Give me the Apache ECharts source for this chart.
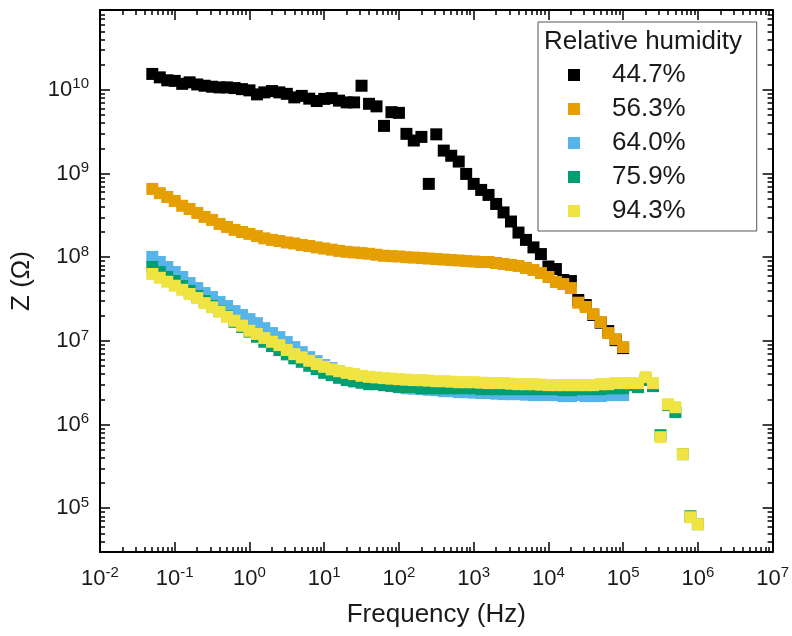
<!DOCTYPE html>
<html><head><meta charset="utf-8">
<script src="https://cdn.jsdelivr.net/npm/echarts@6/dist/echarts.min.js"></script>
<style>html,body{margin:0;padding:0;background:#fff}#c{width:792px;height:636px}</style>
</head><body><div id="c"></div>
<script>
// Frequencies (Hz), 10 points per decade
const freq = [0.0501,0.0631,0.0794,
 0.1,0.126,0.158,0.2,0.251,0.316,0.398,0.501,0.631,0.794,
 1,1.26,1.58,2,2.51,3.16,3.98,5.01,6.31,7.94,
 10,12.6,15.8,20,25.1,31.6,39.8,50.1,63.1,79.4,
 100,126,158,200,251,316,398,501,631,794,
 1000,1260,1580,2000,2510,3160,3980,5010,6310,7940,
 1e4,12600,15800,20000,25100,31600,39800,50100,63100,79400,
 1e5,126000,158000,200000,251000,316000,398000,501000,631000,794000,
 1e6];

// Impedance |Z| (ohm) per relative humidity
const rh447 = [1.55e10,1.41e10,1.30e10,1.28e10,1.18e10,1.23e10,1.16e10,1.12e10,1.09e10,1.07e10,
 1.07e10,1.05e10,1.02e10,9.86e9,8.83e9,9.33e9,9.67e9,9.33e9,8.96e9,8.13e9,
 8.47e9,7.85e9,7.35e9,7.80e9,7.96e9,7.43e9,7.08e9,7.08e9,1.12e10,6.81e9,
 6.35e9,3.71e9,5.41e9,5.31e9,2.98e9,2.48e9,2.74e9,7.52e8,2.94e9,1.88e9,
 1.63e9,1.39e9,9.89e8,7.52e8,6.37e8,5.55e8,4.33e8,3.43e8,2.67e8,1.97e8,
 1.61e8,1.31e8,1.09e8,7.74e7,7.22e7,5.34e7,5.19e7,3.08e7,2.68e7,2.04e7,
 1.65e7,1.31e7,1.02e7,8.20e6];
const rh563 = [6.55e8,5.83e8,5.25e8,4.70e8,4.12e8,3.77e8,3.38e8,3.03e8,2.79e8,2.50e8,
 2.30e8,2.12e8,2.00e8,1.90e8,1.79e8,1.68e8,1.61e8,1.56e8,1.50e8,1.46e8,
 1.40e8,1.36e8,1.31e8,1.27e8,1.23e8,1.19e8,1.16e8,1.14e8,1.12e8,1.10e8,
 1.07e8,1.04e8,1.03e8,1.02e8,1.00e8,9.91e7,9.77e7,9.64e7,9.51e7,9.38e7,
 9.26e7,9.14e7,9.01e7,8.89e7,8.77e7,8.77e7,8.53e7,8.30e7,8.08e7,7.86e7,
 7.44e7,7.04e7,6.47e7,5.80e7,5.05e7,4.78e7,4.28e7,2.86e7,2.54e7,2.09e7,
 1.68e7,1.24e7,1.05e7,8.43e6];
const rh640 = [1.01e8,8.77e7,7.64e7,6.65e7,5.80e7,4.91e7,4.28e7,3.73e7,3.34e7,2.91e7,
 2.61e7,2.27e7,2.04e7,1.82e7,1.63e7,1.42e7,1.24e7,1.11e7,9.68e6,8.43e6,
 7.34e6,6.40e6,5.73e6,5.14e6,4.73e6,4.35e6,4.01e6,3.69e6,3.49e6,3.30e6,
 3.13e6,2.96e6,2.88e6,2.80e6,2.72e6,2.69e6,2.65e6,2.61e6,2.58e6,2.51e6,
 2.51e6,2.44e6,2.44e6,2.41e6,2.38e6,2.38e6,2.34e6,2.31e6,2.31e6,2.31e6,
 2.28e6,2.25e6,2.25e6,2.25e6,2.25e6,2.19e6,2.19e6,2.25e6,2.19e6,2.19e6,
 2.19e6,2.25e6,2.25e6,2.25e6];
const rh759 = [7.64e7,6.65e7,5.80e7,5.19e7,4.53e7,3.95e7,3.44e7,2.99e7,2.61e7,2.27e7,
 1.98e7,1.69e7,1.47e7,1.29e7,1.12e7,9.76e6,8.67e6,7.77e6,6.90e6,6.18e6,
 5.62e6,5.04e6,4.60e6,4.15e6,3.90e6,3.62e6,3.40e6,3.28e6,3.16e6,3.04e6,
 3.04e6,2.96e6,2.90e6,2.82e6,2.82e6,2.82e6,2.72e6,2.72e6,2.72e6,2.72e6,
 2.72e6,2.72e6,2.72e6,2.72e6,2.65e6,2.65e6,2.65e6,2.65e6,2.65e6,2.65e6,
 2.65e6,2.65e6,2.65e6,2.65e6,2.65e6,2.58e6,2.58e6,2.65e6,2.65e6,2.65e6,
 2.65e6,2.72e6,2.72e6,2.72e6,2.96e6,2.80e6,3.40e6,2.88e6,7.47e5,1.71e6,
 1.41e6,4.43e5,8.02e4,6.45e4];
const rh943 = [6.30e7,5.68e7,5.09e7,4.56e7,4.08e7,3.63e7,3.25e7,2.83e7,2.52e7,2.23e7,
 1.94e7,1.74e7,1.52e7,1.32e7,1.21e7,1.08e7,9.76e6,8.91e6,7.77e6,6.95e6,
 6.35e6,5.78e6,5.28e6,4.90e6,4.56e6,4.35e6,4.15e6,4.01e6,3.83e6,3.72e6,
 3.66e6,3.59e6,3.54e6,3.49e6,3.44e6,3.40e6,3.40e6,3.35e6,3.30e6,3.30e6,
 3.26e6,3.21e6,3.21e6,3.21e6,3.17e6,3.13e6,3.13e6,3.13e6,3.08e6,3.04e6,
 3.04e6,3.04e6,3.00e6,2.96e6,2.96e6,2.96e6,2.96e6,2.96e6,2.96e6,2.96e6,
 3.04e6,3.04e6,3.13e6,3.13e6,3.13e6,3.13e6,3.69e6,3.13e6,7.06e5,1.75e6,
 1.61e6,4.43e5,7.80e4,6.45e4];

const seriesNames = ['44.7%','56.3%','64.0%','75.9%','94.3%'];
const seriesValues = [rh447, rh563, rh640, rh759, rh943];
const colors = ['#000000','#E69F00','#56B4E9','#009E73','#F0E442'];

const xMajorTicks = [0.01,0.1,1,10,100,1000,1e4,1e5,1e6,1e7];
const yMajorTicks = [1e5,1e6,1e7,1e8,1e9,1e10];
const mantissas = [2,3,4,5,6,7,8,9];
function minorTicks(lo, hi){ const out=[]; for(let e=lo;e<=hi;e++){ for(const m of mantissas) out.push(m*Math.pow(10,e)); } return out; }
const xMinorTicks = minorTicks(-2, 6);
const yMinorTicks = minorTicks(4, 10);

const FONT = 'Liberation Sans, Arial, Helvetica, sans-serif';
const X_MIN = 0.01, X_MAX = 1e7, Y_MIN = 3e4, Y_MAX = 9e10;

function powLabel(v){ const e = Math.round(Math.log10(v)); return '{b|10}{s|' + e + '}'; }
const richLbl = {
  b:{fontSize:22, fontFamily:FONT, color:'#1a1a1a', lineHeight:25},
  s:{fontSize:15, fontFamily:FONT, color:'#1a1a1a', lineHeight:15, padding:[0,0,11,0]}
};

function mkAxis(kind, pos, major, withLabel){
  const isX = kind === 'x';
  const ax = {
    type:'log', logBase:10, gridIndex:0, position:pos,
    min: isX ? X_MIN : Y_MIN, max: isX ? X_MAX : Y_MAX,
    axisLine:{show: major, onZero:false, lineStyle:{color:'#000', width:2}},
    axisTick:{show:true, inside:true, length: major ? 10 : 5,
      customValues: major ? (isX ? xMajorTicks : yMajorTicks) : (isX ? xMinorTicks : yMinorTicks),
      lineStyle:{color:'#000', width:1.5}},
    axisLabel:{show: withLabel, customValues: isX ? xMajorTicks : yMajorTicks,
      formatter: powLabel, rich: richLbl, margin: isX ? 14 : 11},
    splitLine:{show:false}, minorTick:{show:false}, minorSplitLine:{show:false}
  };
  if (withLabel) {
    ax.name = isX ? 'Frequency (Hz)' : 'Z (\u03A9)';
    ax.nameLocation = 'middle';
    ax.nameGap = isX ? 50 : 65;
    ax.nameTextStyle = {fontSize:26, fontFamily:FONT, color:'#1a1a1a'};
  }
  return ax;
}

const chart = echarts.init(document.getElementById('c'), null, {renderer:'canvas'});
chart.setOption({
  animation:false,
  backgroundColor:'#ffffff',
  grid:{left:100, right:19, top:10, bottom:84, containLabel:false},
  title:{text:'Relative humidity', left:544, top:29, padding:0,
    textStyle:{fontSize:26, fontWeight:'normal', fontFamily:FONT, color:'#1a1a1a'}},
  legend:{
    orient:'vertical', left:538, top:22,
    padding:[40,71,7,30], itemGap:8, itemWidth:12, itemHeight:12,
    borderColor:'#555', borderWidth:1, backgroundColor:'#fff',
    icon:'rect',
    textStyle:{fontSize:26, fontFamily:FONT, color:'#1a1a1a', lineHeight:26, padding:[0,0,0,27]},
    data: seriesNames
  },
  xAxis:[ mkAxis('x','bottom',true,true), mkAxis('x','bottom',false,false),
          mkAxis('x','top',true,false), mkAxis('x','top',false,false) ],
  yAxis:[ mkAxis('y','left',true,true), mkAxis('y','left',false,false),
          mkAxis('y','right',true,false), mkAxis('y','right',false,false) ],
  series: seriesNames.map((n,i)=>({
    name:n, type:'scatter', xAxisIndex:0, yAxisIndex:0,
    symbol:'rect', symbolSize:12,
    itemStyle:{color:colors[i], opacity:1},
    emphasis:{disabled:true},
    data: seriesValues[i].map((v,j)=>[freq[j], v])
  }))
});
</script></body></html>
